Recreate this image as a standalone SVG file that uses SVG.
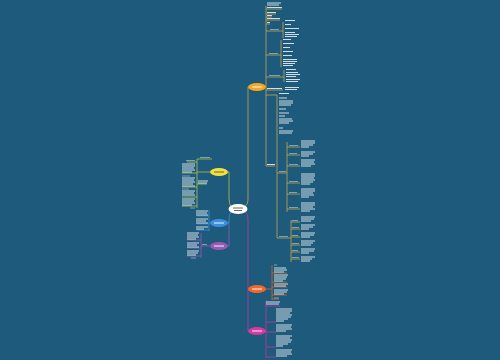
<svg xmlns="http://www.w3.org/2000/svg" width="500" height="360" viewBox="0 0 500 360">
<style>
.tx{stroke:#f2f6f8;stroke-width:0.85;fill:none}
.lb{stroke:#a9c1d0;stroke-width:0.7;fill:none}
.cg{stroke:#c9a54a;stroke-width:0.8;fill:none}
.cy{stroke:#b5c24a;stroke-width:0.8;fill:none}
.cb{stroke:#3b8fd6;stroke-width:0.8;fill:none}
.cp{stroke:#9b59b6;stroke-width:0.8;fill:none}
.cr{stroke:#d9622b;stroke-width:0.8;fill:none}
.ck{stroke:#c0399e;stroke-width:0.8;fill:none}
.nl{stroke:#ffffff;stroke-width:0.9;fill:none}
.nd{stroke:#555555;stroke-width:0.9;fill:none}
</style>
<rect width="500" height="360" fill="#1d5a7b"/>
<g id="connectors">
<path class="cg" d="M245,206 Q248,205 248,198 V87"/>
<path class="ck" d="M245,212 Q248,213 248,220 V331"/>
<path class="cy" d="M231,206 Q229,205 229,198 V172 H228"/>
<path class="cb" d="M231,212 Q229,213 229,220 V223 H228"/>
<path class="cp" d="M229,223 V246 H228"/>
<path class="cg" d="M266,6 V166 M266,9 H282 M266,14 H276 M266,17 H272 M266,20 H280 M266,24 H270 M266,31 H283 M283,22 V38 M266,55 H281 M281,40 V67 M266,77 H284 M284,70 V82 M266,90 H283 M266,95 H277 V238 M277,173 H287 M287,142 V212 M287,147 H300 M287,155 H300 M287,166 H300 M287,183 H300 M287,194 H300 M287,209 H300 M277,238 H291 M291,220 V262 M291,222 H300 M291,229 H300 M291,237 H300 M291,245 H300 M291,252 H300 M291,259 H300 M266,166 H275"/>
<path class="cy" d="M210,172 H197 M197,159 V208 M197,159 H212 M197,162 H187 M197,173 H182 M197,187 H182 M197,197 H182 M197,206 H182 M197,184 H207"/>
<path class="cb" d="M210,223 H209 M209,210 V231 M209,216 H197 M209,224 H197 M209,230 H197"/>
<path class="cp" d="M210,246 H201 M201,233 V258 M201,240 H187 M201,248 H187 M201,256 H187"/>
<path class="cr" d="M266,289 H272 M272,265 V300 M272,273 H287 M272,282 H287 M272,287 H287 M272,295 H287 M272,299 H279"/>
<path class="ck" d="M266,300 V358 M266,306 H280 M266,322 H276 M266,332 H276 M266,347 H276 M266,357 H276"/>
</g>
<g id="n-center">
<ellipse cx="238" cy="209" rx="9.5" ry="5" fill="#ffffff"/>
<path class="nd" d="M233,208h10 M234,210.5h8"/>
</g>
<g id="n-orange">
<ellipse cx="257" cy="87" rx="9" ry="4" fill="#f5a623"/>
<path class="nl" d="M252,87h10"/>
</g>
<g id="n-yellow">
<ellipse cx="219" cy="172" rx="9" ry="4" fill="#f1e23c"/>
<path class="nd" d="M214,172h10"/>
</g>
<g id="n-blue">
<ellipse cx="219" cy="223" rx="9" ry="4" fill="#3a8fde"/>
<path class="nl" d="M214,223h10"/>
</g>
<g id="n-purple">
<ellipse cx="219" cy="246" rx="9" ry="4" fill="#9b59b6"/>
<path class="nl" d="M214,246h10"/>
</g>
<g id="n-red">
<ellipse cx="257" cy="289" rx="9" ry="4" fill="#ee6a2a"/>
<path class="nl" d="M252,289h10"/>
</g>
<g id="n-pink">
<ellipse cx="257" cy="331" rx="9" ry="4" fill="#d63aa0"/>
<path class="nl" d="M252,331h10"/>
</g>
<g id="orange-children">
<path class="tx" d="M267,3h14 M267,5h12 M267,7.5h15 M267,12.5h9 M267,15.5h5 M267,18.5h13 M267,22.5h3 M285,20.5h10 M285,24.5h6 M285,28.5h14 M285,32.5h10 M285,34.5h14 M285,36.5h12 M283,39.5h8 M283,43.5h11 M283,47.5h7 M283,51.5h10 M283,55.5h9 M283,59.5h14 M283,61.5h14 M283,63.5h12 M283,65.5h10 M286,69.5h10 M286,72.5h12 M286,74.5h14 M286,76.5h10 M286,79.5h14 M286,81.5h12 M267,88.5h15 M285,87.5h14 M285,89.5h12 M279,93.5h10 M279,98h8 M279,101h14 M279,103h14 M279,105h12 M279,109h7 M279,113h10 M279,116h6 M279,119h13 M279,121h14 M279,123h10 M279,128h4 M279,131h14 M279,133h13 M267,164.5h8 M301,141h14 M301,143h14 M301,145h12 M301,147h8 M301,152h14 M301,154h12 M301,156h8 M301,160h14 M301,162h13 M301,164h14 M301,166h10 M301,174h14 M301,176h14 M301,178h13 M301,180h14 M301,182h12 M301,184h9 M301,189h14 M301,191h14 M301,193h12 M301,195h13 M301,197h8 M301,203h14 M301,205h14 M301,207h12 M301,209h14 M301,211h9 M301,217h14 M301,219h13 M301,221h10 M301,225h14 M301,227h12 M301,229h8 M301,233h14 M301,235h13 M301,237h9 M301,241h14 M301,243h12 M301,245h10 M301,249h14 M301,251h13 M301,253h8 M301,257h14 M301,259h11 M301,261h9"/>
<path class="lb" d="M270,29.5h9 M269,53.5h9 M269,75.5h11 M279,171.5h7 M289,145.5h9 M289,153.5h8 M289,164.5h9 M289,181.5h9 M289,192.5h8 M289,207.5h9 M279,236.5h9 M292,220.5h6 M292,227.5h7 M292,235.5h6 M292,243.5h7 M292,250.5h6 M292,257.5h7"/>
</g>
<g id="yellow-children">
<path class="tx" d="M182,164h13 M182,166h13 M182,168h12 M182,170h13 M182,172h10 M182,178h13 M182,180h12 M182,182h13 M182,184h11 M182,186h13 M182,191h13 M182,193h12 M182,195h13 M182,199h13 M182,201h12 M182,203h13 M182,205h10 M198,181h10 M198,183h9"/>
<path class="lb" d="M200,157.5h10 M186,160.5h9 M182,176h8 M182,189h7 M190,208h5"/>
</g>
<g id="blue-children">
<path class="tx" d="M196,211h12 M196,213h11 M196,215h12 M196,219h12 M196,221h10 M196,223h12 M196,227h12 M196,229h8"/>
</g>
<g id="purple-children">
<path class="tx" d="M187,233h12 M187,235h11 M187,237h12 M187,239h9 M187,243h12 M187,245h10 M187,247h12 M187,251h12 M187,253h11 M187,255h9"/>
<path class="lb" d="M191,258h5 M202,244.5h5"/>
</g>
<g id="red-children">
<path class="tx" d="M274,268h12 M274,270h13 M274,272h10 M274,275h14 M274,277h13 M274,279h12 M274,281h9 M274,284h14 M274,286h12 M274,290h14 M274,292h13 M274,294h10"/>
<path class="lb" d="M274,265h3 M274,298h5"/>
</g>
<g id="pink-children">
<path class="tx" d="M266,302h14 M266,304h13 M276,309h16 M276,311h16 M276,313h14 M276,315h16 M276,317h15 M276,319h12 M276,321h8 M276,325h16 M276,327h15 M276,329h16 M276,331h10 M276,336h16 M276,338h14 M276,340h16 M276,342h15 M276,344h12 M276,346h7 M276,350h16 M276,352h15 M276,354h16 M276,356h11"/>
</g>
</svg>
